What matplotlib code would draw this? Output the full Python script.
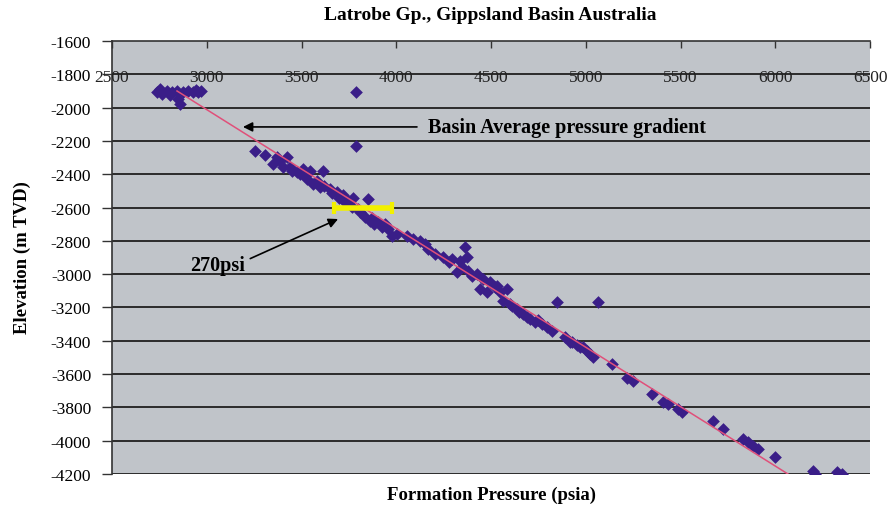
#!/usr/bin/env python3
import matplotlib
matplotlib.use('Agg')
import matplotlib.pyplot as plt

# Pressure (psia) / elevation (m TVD)
pressure = [2737, 2753, 2764, 2790, 2806, 2817, 2843, 2848, 2859, 2875, 2901, 2927, 2943, 2954, 2970,
            3788, 3788,
            3255, 3307, 3371, 3387, 3423, 3350, 3402, 3439, 3476, 3508, 3545, 3613, 3529, 3561,
            3598, 3650, 3687, 3719, 3772, 3851, 3730, 3767, 3809, 3835, 3861, 3904, 3925, 3956,
            3978, 4004, 4057, 4088, 4125, 4152, 4168, 4204, 4247, 4294, 4336, 4363, 4373, 4347,
            4379, 4321, 4426, 4458, 4495, 4532, 4584, 4547, 4442, 4479, 4563, 4600, 4637, 4669,
            4706, 4748, 4795, 4822, 4848, 5065, 4890, 4917, 4954, 4985, 5007, 5038, 5139, 5218,
            5249, 5350, 5408, 5434, 5487, 5508, 5671, 5724, 5830, 5856, 5883, 5909, 5999, 6199,
            6210, 6326, 6352,
            3450, 3490, 3520, 3580, 3620, 3660, 3700, 3745, 3800, 3870, 3880, 3940,
            4280, 4400, 4520, 4610, 4650, 4690, 4730, 4770, 4930, 4970, 5020]
elevation = [-1906, -1888, -1918, -1900, -1924, -1906, -1900, -1948, -1978, -1906, -1900, -1906, -1894, -1906, -1900,
             -1906, -2231,
             -2261, -2285, -2297, -2321, -2297, -2339, -2357, -2357, -2387, -2369, -2381, -2381, -2429, -2459,
             -2477, -2489, -2507, -2525, -2543, -2549, -2567, -2597, -2627, -2657, -2681, -2687, -2717, -2729,
             -2771, -2759, -2771, -2789, -2801, -2819, -2849, -2879, -2897, -2909, -2921, -2837, -2897, -2957,
             -2981, -2987, -2999, -3029, -3047, -3071, -3089, -3107, -3089, -3107, -3161, -3179, -3209, -3239,
             -3269, -3275, -3317, -3341, -3167, -3167, -3377, -3408, -3426, -3438, -3462, -3498, -3540, -3624,
             -3642, -3720, -3768, -3780, -3810, -3828, -3882, -3930, -3990, -4008, -4032, -4050, -4098, -4182,
             -4200, -4188, -4200,
             -2380, -2400, -2410, -2440, -2470, -2510, -2540, -2560, -2610, -2660, -2700, -2700,
             -2930, -3010, -3080, -3190, -3225, -3260, -3290, -3300, -3410, -3440, -3480]

# basin average gradient line end points
trend_p = [2843, 6067]
trend_e = [-1900, -4200]

# 270 psi bar
bar_p = [3670, 3975]
bar_e = [-2600, -2600]

x_ticks = [2500, 3000, 3500, 4000, 4500, 5000, 5500, 6000, 6500]
y_ticks = list(range(-4200, -1599, 200))

serif = 'Liberation Serif'

fig = plt.figure(figsize=(8.91, 5.10), dpi=100)
ax = fig.add_axes([112/891, 35/510, 758/891, 433/510])
ax.set_facecolor('#c0c4c9')

for y in y_ticks[:-1]:
    ax.axhline(y, color='#2b2b2b', lw=1.4, zorder=1)

ax.plot(trend_p, trend_e, color='#e0507a', lw=1.1, zorder=3)
ax.scatter(pressure, elevation, marker='D', s=42, color='#3a1e88', zorder=2, linewidths=0)
ax.plot(bar_p, bar_e, color='#f2f000', lw=4, solid_capstyle='butt', zorder=4)
ax.plot(bar_p, bar_e, color='#f2f000', lw=0, marker='|', markersize=9, markeredgewidth=3, zorder=4)

ax.set_xlim(2500, 6500)
ax.set_ylim(-4200, -1600)

ax.set_yticks(y_ticks)
ax.set_yticklabels([str(v) for v in y_ticks], fontfamily=serif, fontsize=12.5)
ax.tick_params(axis='y', direction='out', length=7, width=1, color='#333333', pad=8)

ax.xaxis.set_ticks_position('top')
ax.set_xticks(x_ticks)
ax.tick_params(axis='x', direction='in', length=5, width=1, color='#333333', labeltop=False, labelbottom=False)
for p in x_ticks:
    ax.text(p, -1815, str(p), ha='center', va='center', fontfamily=serif, fontsize=12.5, color='#222222', zorder=5)

for s in ['right', 'bottom']:
    ax.spines[s].set_visible(False)
for s in ['left', 'top']:
    ax.spines[s].set_color('#333333')
    ax.spines[s].set_linewidth(1.2)

ax.annotate('Basin Average pressure gradient', xy=(3191, -2116), xytext=(4168, -2116),
            va='center', ha='left', fontfamily=serif, fontweight='bold', fontsize=14.5,
            arrowprops=dict(arrowstyle='-|>', color='black', lw=1.2, shrinkA=6, shrinkB=0,
                            mutation_scale=14))
ax.annotate('270psi', xy=(3693, -2669), xytext=(2912, -2945),
            va='center', ha='left', fontfamily=serif, fontweight='bold', fontsize=14.5,
            arrowprops=dict(arrowstyle='-|>', color='black', lw=1.2, shrinkA=2, shrinkB=0,
                            mutation_scale=14, relpos=(1.0, 0.7)))

fig.text(490/891, 1 - 16/510, 'Latrobe Gp., Gippsland Basin Australia', ha='center', va='center',
         fontfamily=serif, fontweight='bold', fontsize=14)
fig.text(491/891, 1 - 495/510, 'Formation Pressure (psia)', ha='center', va='center',
         fontfamily=serif, fontweight='bold', fontsize=13.5)
fig.text(22/891, 1 - 258/510, 'Elevation (m TVD)', ha='center', va='center', rotation=90,
         fontfamily=serif, fontweight='bold', fontsize=13.5)

fig.savefig('out.png', dpi=100)
